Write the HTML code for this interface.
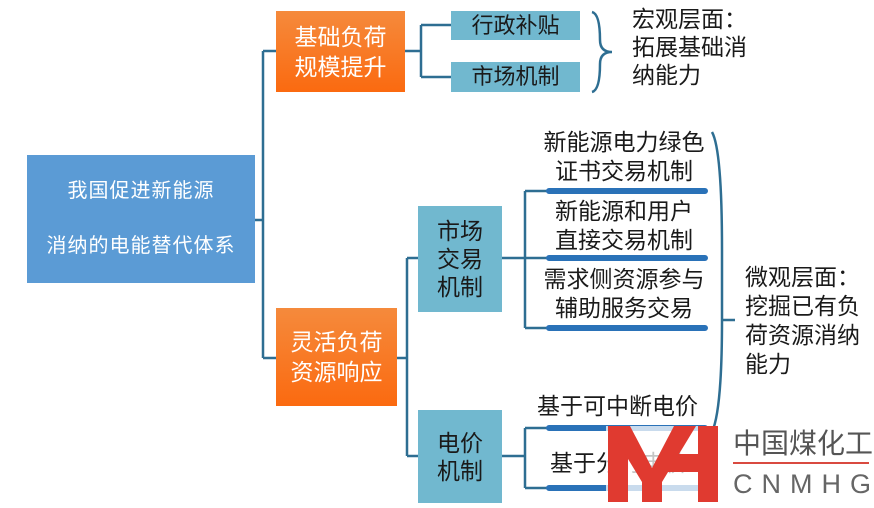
<!DOCTYPE html>
<html><head><meta charset="utf-8"><style>
body{margin:0;width:874px;height:508px;background:#fff;position:relative;overflow:hidden;font-family:"Liberation Sans","Noto Sans CJK SC",sans-serif}
.a{position:absolute}
.t{position:absolute;white-space:nowrap;color:#1a1a1a}
.bx{position:absolute;display:flex;align-items:center;justify-content:center;text-align:center}
.or{background:linear-gradient(#f58a3c,#fb6a10);color:#fff;font-size:23px;line-height:30px}
.tl{background:#71b8cf;color:#1a1a1a;font-size:22px;line-height:28px}
</style></head><body>
<svg class="a" style="left:0;top:0" width="874" height="508">
<g stroke="#2e6e92" stroke-width="2.5" fill="none">
<path d="M255 220H263M263 51V358M263 51H276M263 358H276"/>
<path d="M405 51H421M421 25V77M421 25H451M421 77H451"/>
<path d="M592 12Q600 14 600 40Q600 52 612 52Q600 52 600 64Q600 90 592 92"/>
<path d="M397 358H407M407 258V456M407 258H418M407 456H418"/>
<path d="M502 258H525M525 191V328M525 191H548M525 258H548M525 328H548"/>
<path d="M502 456H525M525 428V488M525 428H548M525 488H548"/>
<path d="M712 132Q722 150 722 250L722 320Q722 410 712 432M722 320H735"/>
</g>
<g stroke="#2a72b8" stroke-width="6" stroke-linecap="round">
<path d="M549 191H705M549 258H705M549 328H705M549 428H705M549 488H705"/>
</g>
</svg>
<div class="bx" style="left:27px;top:155px;width:228px;height:128px;background:#5b9bd5;color:#fff;font-size:20px;line-height:55px;letter-spacing:1px">我国促进新能源<br>消纳的电能替代体系</div>
<div class="bx or" style="left:276px;top:11px;width:129px;height:81px">基础负荷<br>规模提升</div>
<div class="bx or" style="left:276px;top:308px;width:121px;height:98px">灵活负荷<br>资源响应</div>
<div class="bx tl" style="left:451px;top:11px;width:129px;height:29px">行政补贴</div>
<div class="bx tl" style="left:451px;top:62px;width:129px;height:30px">市场机制</div>
<div class="bx tl" style="left:418px;top:206px;width:84px;height:106px;font-size:23px">市场<br>交易<br>机制</div>
<div class="bx tl" style="left:418px;top:410px;width:84px;height:93px;font-size:23px">电价<br>机制</div>
<div class="t" style="left:632px;top:5px;font-size:23px;line-height:28px">宏观层面：<br>拓展基础消<br>纳能力</div>
<div class="t" style="left:745px;top:263px;font-size:23px;line-height:29px">微观层面：<br>挖掘已有负<br>荷资源消纳<br>能力</div>
<div class="t" style="left:536px;top:128px;width:176px;text-align:center;font-size:23px;line-height:29px">新能源电力绿色<br>证书交易机制</div>
<div class="t" style="left:536px;top:197px;width:176px;text-align:center;font-size:23px;line-height:29px">新能源和用户<br>直接交易机制</div>
<div class="t" style="left:536px;top:265px;width:176px;text-align:center;font-size:23px;line-height:29px">需求侧资源参与<br>辅助服务交易</div>
<div class="t" style="left:537px;top:392px;font-size:23px;line-height:28px">基于可中断电价</div>
<div class="t" style="left:550px;top:449px;font-size:23px;line-height:28px">基于分时电价</div>
<svg class="a" style="left:606px;top:426px" width="114" height="76">
<rect x="0" y="0" width="114" height="76" fill="#fff" opacity="0.75"/>
<g fill="#e03a30">
<rect x="2" y="0" width="20" height="76"/><rect x="92" y="0" width="20" height="76"/>
<rect x="62" y="28" width="40" height="18"/>
<polygon points="2,0 24,0 46,42 68,0 90,0 56,56 56,76 36,76 36,56"/>
</g></svg>
<div class="t" style="left:733px;top:428px;font-size:28px;line-height:32px;color:#555">中国煤化工</div>
<div class="a" style="left:733px;top:462px;width:136px;height:2px;background:#d94a40"></div>
<div class="t" style="left:733px;top:468px;font-size:27px;line-height:32px;color:#666;letter-spacing:9px">CNMHG</div>
</body></html>
